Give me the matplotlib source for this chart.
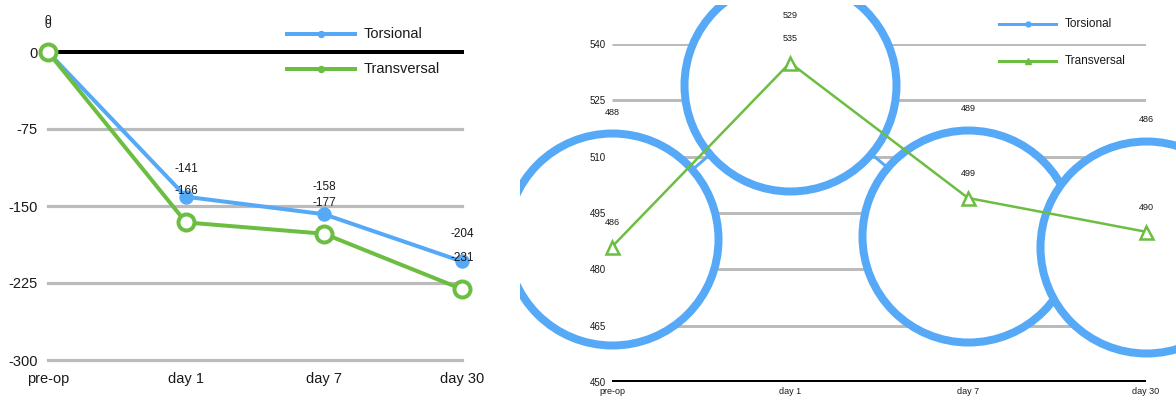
import matplotlib
matplotlib.use("Agg")
import matplotlib.pyplot as plt
from matplotlib.lines import Line2D
from matplotlib.transforms import Bbox, TransformedBbox

# ---- data ----
stages = ["pre-op", "day 1", "day 7", "day 30"]
change_torsional = [0, -141, -158, -204]
change_transversal = [0, -166, -177, -231]
value_torsional = [488, 529, 489, 486]
value_transversal = [486, 535, 499, 490]
left_yticks = [0, -75, -150, -225, -300]
right_yticks = [450, 465, 480, 495, 510, 525, 540]

BLUE = "#55A9F7"
GREEN = "#6CBE42"
GRID = "#BBBBBB"
TXT = "#1a1a1a"

W, H = 1176, 398
plt.rcParams["font.family"] = ["Liberation Sans", "DejaVu Sans"]
fig = plt.figure(figsize=(W / 100, H / 100), dpi=100)


def px_rect(l, t, r, b):
    return [l / W, 1 - b / H, (r - l) / W, (b - t) / H]


def pt(px):
    return px * 72 / 100


def legend_entry(x0, x1, y, color, lw, marker, ms, label, fs):
    fig.add_artist(Line2D([x0 / W, x1 / W], [1 - y / H, 1 - y / H], color=color, lw=lw,
                          transform=fig.transFigure))
    fig.add_artist(Line2D([(x0 + x1) / 2 / W], [1 - y / H], color=color, marker=marker,
                          ms=ms, lw=0, transform=fig.transFigure))
    fig.text((x1 + 9) / W, 1 - y / H, label, fontsize=fs, va="center", ha="left", color=TXT)


x = list(range(len(stages)))

# ---------------- left chart ----------------
ax1 = fig.add_axes(px_rect(48, 52, 462, 360))
ax1.set_xlim(0, 3)
ax1.set_ylim(-300, 0)
for s in ax1.spines.values():
    s.set_visible(False)
for yv in left_yticks[1:]:
    ax1.axhline(yv, color=GRID, lw=pt(3.2), zorder=1, clip_on=False)
ax1.axhline(0, color="black", lw=pt(4), zorder=1.5, clip_on=False)

ax1.plot(x, change_torsional, color=BLUE, lw=pt(4), marker="o", ms=pt(13),
         mfc=BLUE, mec=BLUE, zorder=3, clip_on=False)
ax1.plot(x, change_transversal, color=GREEN, lw=pt(4), marker="o", ms=pt(16),
         mfc="white", mec=GREEN, mew=pt(4), zorder=4, clip_on=False)

for i, v in enumerate(change_torsional):
    ax1.annotate(str(v), (i, v), xytext=(0, pt(27.5)), textcoords="offset points",
                 ha="center", va="center", fontsize=8.5, color=TXT, zorder=6,
                 annotation_clip=False)
for i, v in enumerate(change_transversal):
    ax1.annotate(str(v), (i, v), xytext=(0, pt(31)), textcoords="offset points",
                 ha="center", va="center", fontsize=8.5, color=TXT, zorder=6,
                 annotation_clip=False)

ax1.set_yticks(left_yticks)
ax1.set_yticklabels([str(v) for v in left_yticks])
ax1.set_xticks(x)
ax1.set_xticklabels(stages)
ax1.tick_params(axis="y", length=0, pad=pt(10), labelsize=10.5, labelcolor=TXT)
ax1.tick_params(axis="x", length=0, pad=pt(12), labelsize=10.5, labelcolor=TXT)

legend_entry(287, 355, 34, BLUE, pt(4), "o", pt(6), "Torsional", 10.5)
legend_entry(287, 355, 69, GREEN, pt(4), "o", pt(6), "Transversal", 10.5)

# ---------------- right chart ----------------
ax2 = fig.add_axes(px_rect(612, 44, 1146, 382))
ax2.set_xlim(0, 3)
ax2.set_ylim(450, 540)
for s in ax2.spines.values():
    s.set_visible(False)
ax2.set_axisbelow(False)
ax2.hlines(right_yticks[1:], 0, 3, color=GRID, lw=pt(3), zorder=1)
ax2.hlines([450], 0, 3, color="black", lw=pt(4), zorder=1.5)

panel_clip = TransformedBbox(Bbox.from_extents(520 / W, 0, 1, 393 / H), fig.transFigure)
tors, = ax2.plot(x, value_torsional, color=BLUE, lw=pt(3), marker="o", ms=pt(212),
                 mfc="white", mec=BLUE, mew=pt(8), zorder=2)
tors.set_clip_box(panel_clip)
ax2.plot(x, value_transversal, color=GREEN, lw=pt(2.5), marker="^", ms=pt(13),
         mfc="white", mec=GREEN, mew=pt(2.5), zorder=3, clip_on=False)

# labels of the big circles sit above the circle, kept inside the panel
for i, v in enumerate(value_torsional):
    yd = ax2.transData.transform((i, v))[1]
    dy = min(127, (H - 15) - yd)
    ax2.annotate(str(v), (i, v), xytext=(0, pt(dy)), textcoords="offset points",
                 ha="center", va="center", fontsize=6.5, color=TXT, zorder=6,
                 annotation_clip=False)
for i, v in enumerate(value_transversal):
    ax2.annotate(str(v), (i, v), xytext=(0, pt(24)), textcoords="offset points",
                 ha="center", va="center", fontsize=6.5, color=TXT, zorder=6,
                 annotation_clip=False)

ax2.set_yticks(right_yticks)
ax2.set_yticklabels([str(v) for v in right_yticks])
ax2.set_xticks(x)
ax2.set_xticklabels(stages)
ax2.tick_params(axis="y", length=0, pad=pt(6), labelsize=7, labelcolor=TXT)
ax2.tick_params(axis="x", length=0, pad=pt(5), labelsize=6.5, labelcolor=TXT)

legend_entry(999, 1056, 24, BLUE, pt(3), "o", pt(5), "Torsional", 8.5)
legend_entry(999, 1056, 61, GREEN, pt(3), "^", pt(6), "Transversal", 8.5)

fig.savefig("out.png", dpi=100, facecolor="white")
